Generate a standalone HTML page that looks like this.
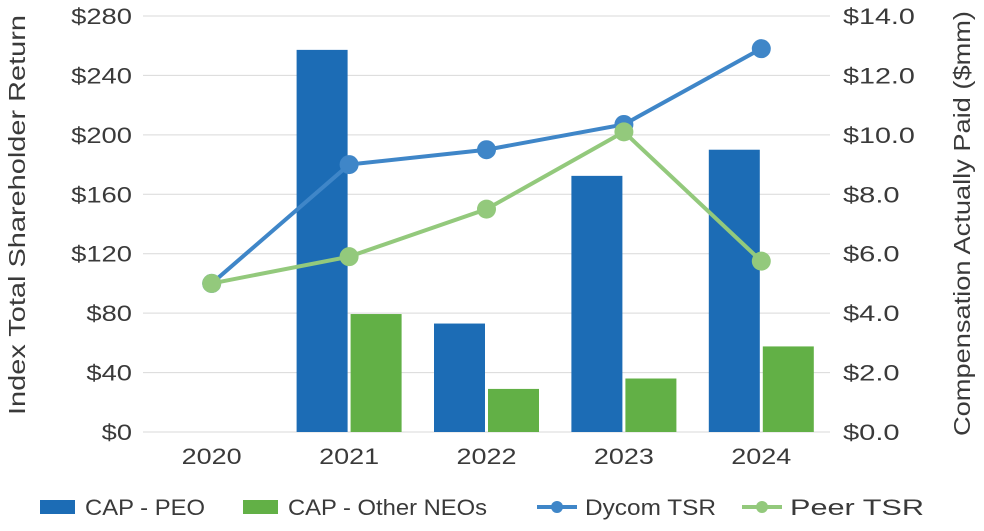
<!DOCTYPE html>
<html><head><meta charset="utf-8">
<style>
body{margin:0;background:#fff;width:984px;height:526px;overflow:hidden;font-family:"Liberation Sans",sans-serif;}
svg text{font-family:"Liberation Sans",sans-serif;fill:#3a3a3a;}
</style></head>
<body>
<svg id="chart" width="984" height="526" viewBox="0 0 984 526" xmlns="http://www.w3.org/2000/svg"></svg>
<script>
const categories=["2020","2021","2022","2023","2024"];
const capPeo=[null,12.86,3.65,8.62,9.5];
const capNeo=[null,3.97,1.45,1.8,2.88];
const dycomTsr=[100,180,190,207,258];
const peerTsr=[100,118,150,202,115];
const leftTicks=[0,40,80,120,160,200,240,280];
const rightTicks=[0,2,4,6,8,10,12,14];

const svg=document.getElementById('chart');
const NS='http://www.w3.org/2000/svg';
const X0=143,X1=830,Y0=432,Y1=16;
const band=(X1-X0)/categories.length;
const xC=i=>X0+band*(i+0.5);
const yL=v=>Y0-(v/280)*(Y0-Y1);
const yR=v=>Y0-(v/14)*(Y0-Y1);
function mk(tag,attrs,parent){const e=document.createElementNS(NS,tag);for(const k in attrs)e.setAttribute(k,attrs[k]);(parent||svg).appendChild(e);return e;}
function tw(s){let w=0;for(const ch of s){w+= ch==='$'?15: ch==='.'?7: 15.3;}return w;}

leftTicks.forEach(t=>{
  const g=mk('line',{x1:X0,x2:X1,y1:yL(t),y2:yL(t),stroke:'#d9d9d9','stroke-width':1});
  
  
  const s='$'+t;
  const tx=mk('text',{x:132,y:yL(t)+8,'text-anchor':'end','font-size':22,textLength:tw(s),lengthAdjust:'spacingAndGlyphs'});
  tx.textContent=s;
  
  
});
rightTicks.forEach(t=>{
  const s='$'+t.toFixed(1);
  const tx=mk('text',{x:843,y:yR(t)+8,'text-anchor':'start','font-size':22,textLength:tw(s)+4,lengthAdjust:'spacingAndGlyphs'});
  tx.textContent=s;
  
  
});
categories.forEach((c,i)=>{
  const tx=mk('text',{x:xC(i)-30,y:464,'font-size':22,textLength:60,lengthAdjust:'spacingAndGlyphs'});
  tx.textContent=c;
  
  
});
let at=mk('text',{x:-200,y:0,'font-size':23,textLength:400,lengthAdjust:'spacingAndGlyphs',transform:'translate(25,215) rotate(-90)'});
at.textContent='Index Total Shareholder Return';


at=mk('text',{x:-212,y:0,'font-size':23,textLength:425,lengthAdjust:'spacingAndGlyphs',transform:'translate(970,224) rotate(-90)'});
at.textContent='Compensation Actually Paid ($mm)';



const bw=51,gap=3;
categories.forEach((c,i)=>{
  if(capPeo[i]!=null){
    const r=mk('rect',{x:xC(i)-gap/2-bw,y:yR(capPeo[i]),width:bw,height:Y0-yR(capPeo[i]),fill:'#1c6cb5'});
    
    
  }
  if(capNeo[i]!=null){
    const r=mk('rect',{x:xC(i)+gap/2,y:yR(capNeo[i]),width:bw,height:Y0-yR(capNeo[i]),fill:'#62b046'});
    
    
  }
});
function series(vals,color,name){
  const p=mk('polyline',{points:vals.map((v,i)=>xC(i)+','+yL(v)).join(' '),fill:'none',stroke:color,'stroke-width':4});
  
  
  vals.forEach((v,i)=>{
    const c=mk('circle',{cx:xC(i),cy:yL(v),r:9.5,fill:color});
    
    
  });
}
series(dycomTsr,'#3f86c8','dycom-tsr');
series(peerTsr,'#93c97c','peer-tsr');

const leg=[{t:'CAP - PEO',c:'#1c6cb5',type:'bar',x:40,tx:85,w:120},{t:'CAP - Other NEOs',c:'#62b046',type:'bar',x:243,tx:288,w:199},{t:'Dycom TSR',c:'#3f86c8',type:'line',x:537,tx:585,w:131},{t:'Peer TSR',c:'#93c97c',type:'line',x:742,tx:790,w:134}];
leg.forEach(l=>{
  const g=mk('g',{});
  
  
  if(l.type==='bar'){mk('rect',{x:l.x,y:500,width:35,height:14,fill:l.c},g);}
  else{mk('line',{x1:l.x,x2:l.x+40,y1:507,y2:507,stroke:l.c,'stroke-width':4},g);mk('circle',{cx:l.x+20,cy:507,r:6,fill:l.c},g);}
  const t=mk('text',{x:l.tx,y:515,'font-size':22,textLength:l.w,lengthAdjust:'spacingAndGlyphs'},g);t.textContent=l.t;
});
</script>
</body></html>
